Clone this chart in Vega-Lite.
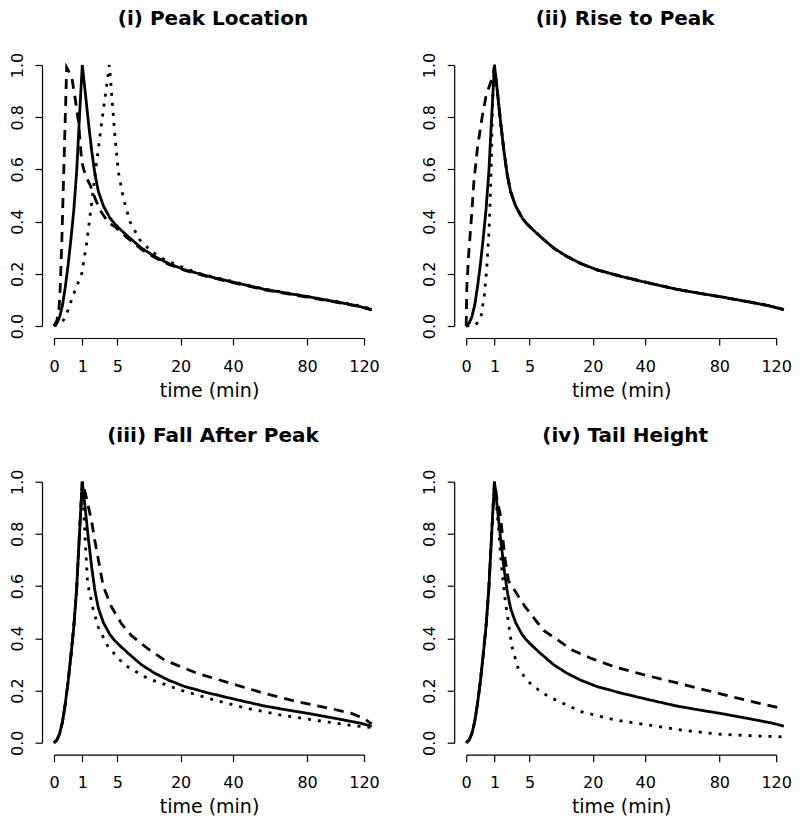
{
  "$schema": "https://vega.github.io/schema/vega-lite/v6.json",
  "padding": {"left": 9, "top": 9, "right": 0, "bottom": 0},
  "background": "white",
  "columns": 2,
  "spacing": {"row": 155.7, "column": 102.2},
  "bounds": "flush",
  "config": {
    "view": {"stroke": null},
    "title": {"font": "DejaVu Sans", "fontSize": 20, "fontWeight": "bold", "color": "#000", "anchor": "middle", "frame": "group", "offset": 23, "dx": 4},
    "axis": {"grid": false, "domainColor": "#000", "tickColor": "#000", "labelColor": "#000", "labelFont": "DejaVu Sans", "labelFontSize": 16, "tickSize": 7, "offset": 12, "titleFont": "DejaVu Sans", "titleFontWeight": "normal", "titleFontSize": 19, "titleColor": "#000", "labelFlush": false, "labelOverlap": false, "domainWidth": 1.2, "tickWidth": 1.2},
    "axisX": {"labelPadding": 13, "titlePadding": 7},
    "axisY": {"labelPadding": 10}
  },
  "datasets": {
    "p1": [
      {"c": "solid", "t": 0, "v": 0}, {"c": "solid", "t": 0.01, "v": 0.01}, {"c": "solid", "t": 0.04, "v": 0.035}, {"c": "solid", "t": 0.09, "v": 0.08}, {"c": "solid", "t": 0.16, "v": 0.15}, {"c": "solid", "t": 0.25, "v": 0.235}, {"c": "solid", "t": 0.36, "v": 0.335}, {"c": "solid", "t": 0.49, "v": 0.445}, {"c": "solid", "t": 0.64, "v": 0.59}, {"c": "solid", "t": 0.81, "v": 0.8}, {"c": "solid", "t": 0.9, "v": 0.9}, {"c": "solid", "t": 1, "v": 1},
      {"c": "solid", "t": 1.1, "v": 0.95}, {"c": "solid", "t": 1.21, "v": 0.9}, {"c": "solid", "t": 1.48, "v": 0.78}, {"c": "solid", "t": 1.78, "v": 0.67}, {"c": "solid", "t": 2.1, "v": 0.58}, {"c": "solid", "t": 2.46, "v": 0.515}, {"c": "solid", "t": 3.05, "v": 0.46}, {"c": "solid", "t": 3.93, "v": 0.413}, {"c": "solid", "t": 4.66, "v": 0.39}, {"c": "solid", "t": 5.5, "v": 0.37}, {"c": "solid", "t": 6.9, "v": 0.342}, {"c": "solid", "t": 9.6, "v": 0.298}, {"c": "solid", "t": 12.7, "v": 0.266}, {"c": "solid", "t": 16.3, "v": 0.24}, {"c": "solid", "t": 21.4, "v": 0.215}, {"c": "solid", "t": 30, "v": 0.19}, {"c": "solid", "t": 40, "v": 0.168}, {"c": "solid", "t": 55, "v": 0.141}, {"c": "solid", "t": 70, "v": 0.123}, {"c": "solid", "t": 80, "v": 0.113}, {"c": "solid", "t": 100, "v": 0.092}, {"c": "solid", "t": 115, "v": 0.077}, {"c": "solid", "t": 126, "v": 0.063},
      {"c": "dashed", "t": 0, "v": 0}, {"c": "dashed", "t": 0.01, "v": 0.02}, {"c": "dashed", "t": 0.03, "v": 0.06}, {"c": "dashed", "t": 0.048, "v": 0.144}, {"c": "dashed", "t": 0.076, "v": 0.32}, {"c": "dashed", "t": 0.112, "v": 0.553}, {"c": "dashed", "t": 0.155, "v": 0.78}, {"c": "dashed", "t": 0.2, "v": 0.99}, {"c": "dashed", "t": 0.25, "v": 0.98}, {"c": "dashed", "t": 0.4, "v": 0.95}, {"c": "dashed", "t": 0.56, "v": 0.872}, {"c": "dashed", "t": 0.75, "v": 0.78}, {"c": "dashed", "t": 0.96, "v": 0.63}, {"c": "dashed", "t": 1.21, "v": 0.58}, {"c": "dashed", "t": 1.63, "v": 0.54}, {"c": "dashed", "t": 2.1, "v": 0.49}, {"c": "dashed", "t": 2.65, "v": 0.444}, {"c": "dashed", "t": 3.7, "v": 0.395}, {"c": "dashed", "t": 4.66, "v": 0.38}, {"c": "dashed", "t": 5.5, "v": 0.36}, {"c": "dashed", "t": 6.9, "v": 0.335}, {"c": "dashed", "t": 9.6, "v": 0.293}, {"c": "dashed", "t": 12.7, "v": 0.262}, {"c": "dashed", "t": 16.3, "v": 0.237}, {"c": "dashed", "t": 21.4, "v": 0.213}, {"c": "dashed", "t": 30, "v": 0.188}, {"c": "dashed", "t": 40, "v": 0.166}, {"c": "dashed", "t": 55, "v": 0.139}, {"c": "dashed", "t": 70, "v": 0.121}, {"c": "dashed", "t": 80, "v": 0.111}, {"c": "dashed", "t": 100, "v": 0.091}, {"c": "dashed", "t": 115, "v": 0.076}, {"c": "dashed", "t": 126, "v": 0.062},
      {"c": "dotted", "t": 0, "v": 0}, {"c": "dotted", "t": 0.05, "v": 0.01}, {"c": "dotted", "t": 0.155, "v": 0.03}, {"c": "dotted", "t": 0.47, "v": 0.12}, {"c": "dotted", "t": 0.96, "v": 0.2}, {"c": "dotted", "t": 1.34, "v": 0.32}, {"c": "dotted", "t": 1.78, "v": 0.476}, {"c": "dotted", "t": 2.28, "v": 0.63}, {"c": "dotted", "t": 2.84, "v": 0.78}, {"c": "dotted", "t": 3.47, "v": 0.923}, {"c": "dotted", "t": 3.83, "v": 1.0}, {"c": "dotted", "t": 4.16, "v": 0.885}, {"c": "dotted", "t": 4.66, "v": 0.72}, {"c": "dotted", "t": 5.18, "v": 0.59}, {"c": "dotted", "t": 6.0, "v": 0.49}, {"c": "dotted", "t": 7.2, "v": 0.4}, {"c": "dotted", "t": 9.2, "v": 0.33}, {"c": "dotted", "t": 11.9, "v": 0.285}, {"c": "dotted", "t": 15.4, "v": 0.253}, {"c": "dotted", "t": 20.3, "v": 0.227}, {"c": "dotted", "t": 25.8, "v": 0.203}, {"c": "dotted", "t": 30, "v": 0.192}, {"c": "dotted", "t": 40, "v": 0.17}, {"c": "dotted", "t": 55, "v": 0.142}, {"c": "dotted", "t": 70, "v": 0.124}, {"c": "dotted", "t": 80, "v": 0.113}, {"c": "dotted", "t": 100, "v": 0.093}, {"c": "dotted", "t": 115, "v": 0.079}, {"c": "dotted", "t": 126, "v": 0.065}
    ],
    "p2": [
      {"c": "solid", "t": 0, "v": 0}, {"c": "solid", "t": 0.01, "v": 0.01}, {"c": "solid", "t": 0.04, "v": 0.035}, {"c": "solid", "t": 0.09, "v": 0.08}, {"c": "solid", "t": 0.16, "v": 0.15}, {"c": "solid", "t": 0.25, "v": 0.235}, {"c": "solid", "t": 0.36, "v": 0.335}, {"c": "solid", "t": 0.49, "v": 0.445}, {"c": "solid", "t": 0.64, "v": 0.59}, {"c": "solid", "t": 0.81, "v": 0.8}, {"c": "solid", "t": 0.9, "v": 0.9}, {"c": "solid", "t": 1, "v": 1},
      {"c": "solid", "t": 1.1, "v": 0.95}, {"c": "solid", "t": 1.21, "v": 0.9}, {"c": "solid", "t": 1.48, "v": 0.78}, {"c": "solid", "t": 1.78, "v": 0.67}, {"c": "solid", "t": 2.1, "v": 0.58}, {"c": "solid", "t": 2.46, "v": 0.515}, {"c": "solid", "t": 3.05, "v": 0.46}, {"c": "solid", "t": 3.93, "v": 0.413}, {"c": "solid", "t": 4.66, "v": 0.39}, {"c": "solid", "t": 5.5, "v": 0.37}, {"c": "solid", "t": 6.9, "v": 0.342}, {"c": "solid", "t": 9.6, "v": 0.298}, {"c": "solid", "t": 12.7, "v": 0.266}, {"c": "solid", "t": 16.3, "v": 0.24}, {"c": "solid", "t": 21.4, "v": 0.215}, {"c": "solid", "t": 30, "v": 0.19}, {"c": "solid", "t": 40, "v": 0.168}, {"c": "solid", "t": 55, "v": 0.141}, {"c": "solid", "t": 70, "v": 0.123}, {"c": "solid", "t": 80, "v": 0.113}, {"c": "solid", "t": 100, "v": 0.092}, {"c": "solid", "t": 115, "v": 0.077}, {"c": "solid", "t": 126, "v": 0.063},
      {"c": "dashed", "t": 0, "v": 0}, {"c": "dashed", "t": 0.0004, "v": 0.144}, {"c": "dashed", "t": 0.007, "v": 0.27}, {"c": "dashed", "t": 0.034, "v": 0.413}, {"c": "dashed", "t": 0.074, "v": 0.553}, {"c": "dashed", "t": 0.156, "v": 0.68}, {"c": "dashed", "t": 0.31, "v": 0.796}, {"c": "dashed", "t": 0.5, "v": 0.885}, {"c": "dashed", "t": 0.73, "v": 0.93}, {"c": "dashed", "t": 0.9, "v": 0.96}, {"c": "dashed", "t": 1, "v": 1},
      {"c": "dashed", "t": 1.1, "v": 0.95}, {"c": "dashed", "t": 1.21, "v": 0.9}, {"c": "dashed", "t": 1.48, "v": 0.78}, {"c": "dashed", "t": 1.78, "v": 0.67}, {"c": "dashed", "t": 2.1, "v": 0.58}, {"c": "dashed", "t": 2.46, "v": 0.515}, {"c": "dashed", "t": 3.05, "v": 0.46}, {"c": "dashed", "t": 3.93, "v": 0.413}, {"c": "dashed", "t": 4.66, "v": 0.39}, {"c": "dashed", "t": 5.5, "v": 0.37}, {"c": "dashed", "t": 6.9, "v": 0.342}, {"c": "dashed", "t": 9.6, "v": 0.298}, {"c": "dashed", "t": 12.7, "v": 0.266}, {"c": "dashed", "t": 16.3, "v": 0.24}, {"c": "dashed", "t": 21.4, "v": 0.215}, {"c": "dashed", "t": 30, "v": 0.19}, {"c": "dashed", "t": 40, "v": 0.168}, {"c": "dashed", "t": 55, "v": 0.141}, {"c": "dashed", "t": 70, "v": 0.123}, {"c": "dashed", "t": 80, "v": 0.113}, {"c": "dashed", "t": 100, "v": 0.092}, {"c": "dashed", "t": 115, "v": 0.077}, {"c": "dashed", "t": 126, "v": 0.063},
      {"c": "dotted", "t": 0, "v": 0}, {"c": "dotted", "t": 0.113, "v": 0.004}, {"c": "dotted", "t": 0.266, "v": 0.03}, {"c": "dotted", "t": 0.412, "v": 0.12}, {"c": "dotted", "t": 0.527, "v": 0.22}, {"c": "dotted", "t": 0.648, "v": 0.36}, {"c": "dotted", "t": 0.727, "v": 0.5}, {"c": "dotted", "t": 0.8, "v": 0.655}, {"c": "dotted", "t": 0.839, "v": 0.78}, {"c": "dotted", "t": 0.898, "v": 0.91}, {"c": "dotted", "t": 1, "v": 1},
      {"c": "dotted", "t": 1.1, "v": 0.95}, {"c": "dotted", "t": 1.21, "v": 0.9}, {"c": "dotted", "t": 1.48, "v": 0.78}, {"c": "dotted", "t": 1.78, "v": 0.67}, {"c": "dotted", "t": 2.1, "v": 0.58}, {"c": "dotted", "t": 2.46, "v": 0.515}, {"c": "dotted", "t": 3.05, "v": 0.46}, {"c": "dotted", "t": 3.93, "v": 0.413}, {"c": "dotted", "t": 4.66, "v": 0.39}, {"c": "dotted", "t": 5.5, "v": 0.37}, {"c": "dotted", "t": 6.9, "v": 0.342}, {"c": "dotted", "t": 9.6, "v": 0.298}, {"c": "dotted", "t": 12.7, "v": 0.266}, {"c": "dotted", "t": 16.3, "v": 0.24}, {"c": "dotted", "t": 21.4, "v": 0.215}, {"c": "dotted", "t": 30, "v": 0.19}, {"c": "dotted", "t": 40, "v": 0.168}, {"c": "dotted", "t": 55, "v": 0.141}, {"c": "dotted", "t": 70, "v": 0.123}, {"c": "dotted", "t": 80, "v": 0.113}, {"c": "dotted", "t": 100, "v": 0.092}, {"c": "dotted", "t": 115, "v": 0.077}, {"c": "dotted", "t": 126, "v": 0.063}
    ],
    "p3": [
      {"c": "solid", "t": 0, "v": 0}, {"c": "solid", "t": 0.01, "v": 0.01}, {"c": "solid", "t": 0.04, "v": 0.035}, {"c": "solid", "t": 0.09, "v": 0.08}, {"c": "solid", "t": 0.16, "v": 0.15}, {"c": "solid", "t": 0.25, "v": 0.235}, {"c": "solid", "t": 0.36, "v": 0.335}, {"c": "solid", "t": 0.49, "v": 0.445}, {"c": "solid", "t": 0.64, "v": 0.59}, {"c": "solid", "t": 0.81, "v": 0.8}, {"c": "solid", "t": 0.9, "v": 0.9}, {"c": "solid", "t": 1, "v": 1},
      {"c": "solid", "t": 1.1, "v": 0.95}, {"c": "solid", "t": 1.21, "v": 0.9}, {"c": "solid", "t": 1.48, "v": 0.78}, {"c": "solid", "t": 1.78, "v": 0.67}, {"c": "solid", "t": 2.1, "v": 0.58}, {"c": "solid", "t": 2.46, "v": 0.515}, {"c": "solid", "t": 3.05, "v": 0.46}, {"c": "solid", "t": 3.93, "v": 0.413}, {"c": "solid", "t": 4.66, "v": 0.39}, {"c": "solid", "t": 5.5, "v": 0.37}, {"c": "solid", "t": 6.9, "v": 0.342}, {"c": "solid", "t": 9.6, "v": 0.298}, {"c": "solid", "t": 12.7, "v": 0.266}, {"c": "solid", "t": 16.3, "v": 0.24}, {"c": "solid", "t": 21.4, "v": 0.215}, {"c": "solid", "t": 30, "v": 0.19}, {"c": "solid", "t": 40, "v": 0.168}, {"c": "solid", "t": 55, "v": 0.141}, {"c": "solid", "t": 70, "v": 0.123}, {"c": "solid", "t": 80, "v": 0.113}, {"c": "solid", "t": 100, "v": 0.092}, {"c": "solid", "t": 115, "v": 0.077}, {"c": "solid", "t": 126, "v": 0.063},
      {"c": "dashed", "t": 0, "v": 0}, {"c": "dashed", "t": 0.01, "v": 0.01}, {"c": "dashed", "t": 0.04, "v": 0.035}, {"c": "dashed", "t": 0.09, "v": 0.08}, {"c": "dashed", "t": 0.16, "v": 0.15}, {"c": "dashed", "t": 0.25, "v": 0.235}, {"c": "dashed", "t": 0.36, "v": 0.335}, {"c": "dashed", "t": 0.49, "v": 0.445}, {"c": "dashed", "t": 0.64, "v": 0.59}, {"c": "dashed", "t": 0.81, "v": 0.8}, {"c": "dashed", "t": 0.9, "v": 0.9}, {"c": "dashed", "t": 1, "v": 1},
      {"c": "dashed", "t": 1.24, "v": 0.953}, {"c": "dashed", "t": 1.76, "v": 0.85}, {"c": "dashed", "t": 2.08, "v": 0.775}, {"c": "dashed", "t": 2.63, "v": 0.67}, {"c": "dashed", "t": 3.02, "v": 0.6}, {"c": "dashed", "t": 4.13, "v": 0.52}, {"c": "dashed", "t": 5.68, "v": 0.456}, {"c": "dashed", "t": 7.5, "v": 0.41}, {"c": "dashed", "t": 11, "v": 0.36}, {"c": "dashed", "t": 15.3, "v": 0.316}, {"c": "dashed", "t": 25.8, "v": 0.265}, {"c": "dashed", "t": 39.2, "v": 0.227}, {"c": "dashed", "t": 55.2, "v": 0.189}, {"c": "dashed", "t": 74, "v": 0.157}, {"c": "dashed", "t": 95.6, "v": 0.131}, {"c": "dashed", "t": 110, "v": 0.113}, {"c": "dashed", "t": 120, "v": 0.093}, {"c": "dashed", "t": 126, "v": 0.072},
      {"c": "dotted", "t": 0, "v": 0}, {"c": "dotted", "t": 0.01, "v": 0.01}, {"c": "dotted", "t": 0.04, "v": 0.035}, {"c": "dotted", "t": 0.09, "v": 0.08}, {"c": "dotted", "t": 0.16, "v": 0.15}, {"c": "dotted", "t": 0.25, "v": 0.235}, {"c": "dotted", "t": 0.36, "v": 0.335}, {"c": "dotted", "t": 0.49, "v": 0.445}, {"c": "dotted", "t": 0.64, "v": 0.59}, {"c": "dotted", "t": 0.81, "v": 0.8}, {"c": "dotted", "t": 0.9, "v": 0.9}, {"c": "dotted", "t": 1, "v": 1},
      {"c": "dotted", "t": 1.19, "v": 0.8}, {"c": "dotted", "t": 1.41, "v": 0.61}, {"c": "dotted", "t": 1.92, "v": 0.51}, {"c": "dotted", "t": 2.44, "v": 0.443}, {"c": "dotted", "t": 3.66, "v": 0.367}, {"c": "dotted", "t": 6.25, "v": 0.297}, {"c": "dotted", "t": 11, "v": 0.246}, {"c": "dotted", "t": 20.2, "v": 0.201}, {"c": "dotted", "t": 32.2, "v": 0.163}, {"c": "dotted", "t": 46.9, "v": 0.131}, {"c": "dotted", "t": 64.3, "v": 0.106}, {"c": "dotted", "t": 84.5, "v": 0.087}, {"c": "dotted", "t": 107.5, "v": 0.068}, {"c": "dotted", "t": 126, "v": 0.058}
    ],
    "p4": [
      {"c": "solid", "t": 0, "v": 0}, {"c": "solid", "t": 0.01, "v": 0.01}, {"c": "solid", "t": 0.04, "v": 0.035}, {"c": "solid", "t": 0.09, "v": 0.08}, {"c": "solid", "t": 0.16, "v": 0.15}, {"c": "solid", "t": 0.25, "v": 0.235}, {"c": "solid", "t": 0.36, "v": 0.335}, {"c": "solid", "t": 0.49, "v": 0.445}, {"c": "solid", "t": 0.64, "v": 0.59}, {"c": "solid", "t": 0.81, "v": 0.8}, {"c": "solid", "t": 0.9, "v": 0.9}, {"c": "solid", "t": 1, "v": 1},
      {"c": "solid", "t": 1.1, "v": 0.95}, {"c": "solid", "t": 1.21, "v": 0.9}, {"c": "solid", "t": 1.48, "v": 0.78}, {"c": "solid", "t": 1.78, "v": 0.67}, {"c": "solid", "t": 2.1, "v": 0.58}, {"c": "solid", "t": 2.46, "v": 0.515}, {"c": "solid", "t": 3.05, "v": 0.46}, {"c": "solid", "t": 3.93, "v": 0.413}, {"c": "solid", "t": 4.66, "v": 0.39}, {"c": "solid", "t": 5.5, "v": 0.37}, {"c": "solid", "t": 6.9, "v": 0.342}, {"c": "solid", "t": 9.6, "v": 0.298}, {"c": "solid", "t": 12.7, "v": 0.266}, {"c": "solid", "t": 16.3, "v": 0.24}, {"c": "solid", "t": 21.4, "v": 0.215}, {"c": "solid", "t": 30, "v": 0.19}, {"c": "solid", "t": 40, "v": 0.168}, {"c": "solid", "t": 55, "v": 0.141}, {"c": "solid", "t": 70, "v": 0.123}, {"c": "solid", "t": 80, "v": 0.113}, {"c": "solid", "t": 100, "v": 0.092}, {"c": "solid", "t": 115, "v": 0.077}, {"c": "solid", "t": 126, "v": 0.063},
      {"c": "dashed", "t": 0, "v": 0}, {"c": "dashed", "t": 0.01, "v": 0.01}, {"c": "dashed", "t": 0.04, "v": 0.035}, {"c": "dashed", "t": 0.09, "v": 0.08}, {"c": "dashed", "t": 0.16, "v": 0.15}, {"c": "dashed", "t": 0.25, "v": 0.235}, {"c": "dashed", "t": 0.36, "v": 0.335}, {"c": "dashed", "t": 0.49, "v": 0.445}, {"c": "dashed", "t": 0.64, "v": 0.59}, {"c": "dashed", "t": 0.81, "v": 0.8}, {"c": "dashed", "t": 0.9, "v": 0.9}, {"c": "dashed", "t": 1, "v": 1},
      {"c": "dashed", "t": 1.2, "v": 0.93}, {"c": "dashed", "t": 1.44, "v": 0.876}, {"c": "dashed", "t": 1.9, "v": 0.7}, {"c": "dashed", "t": 2.24, "v": 0.62}, {"c": "dashed", "t": 3, "v": 0.58}, {"c": "dashed", "t": 4.35, "v": 0.52}, {"c": "dashed", "t": 6, "v": 0.47}, {"c": "dashed", "t": 7.5, "v": 0.43}, {"c": "dashed", "t": 10.6, "v": 0.392}, {"c": "dashed", "t": 14, "v": 0.355}, {"c": "dashed", "t": 19.7, "v": 0.322}, {"c": "dashed", "t": 27.7, "v": 0.29}, {"c": "dashed", "t": 40, "v": 0.259}, {"c": "dashed", "t": 55, "v": 0.23}, {"c": "dashed", "t": 79.5, "v": 0.189}, {"c": "dashed", "t": 100, "v": 0.16}, {"c": "dashed", "t": 126, "v": 0.13},
      {"c": "dotted", "t": 0, "v": 0}, {"c": "dotted", "t": 0.01, "v": 0.01}, {"c": "dotted", "t": 0.04, "v": 0.035}, {"c": "dotted", "t": 0.09, "v": 0.08}, {"c": "dotted", "t": 0.16, "v": 0.15}, {"c": "dotted", "t": 0.25, "v": 0.235}, {"c": "dotted", "t": 0.36, "v": 0.335}, {"c": "dotted", "t": 0.49, "v": 0.445}, {"c": "dotted", "t": 0.64, "v": 0.59}, {"c": "dotted", "t": 0.81, "v": 0.8}, {"c": "dotted", "t": 0.9, "v": 0.9}, {"c": "dotted", "t": 1, "v": 1},
      {"c": "dotted", "t": 1.2, "v": 0.88}, {"c": "dotted", "t": 1.59, "v": 0.66}, {"c": "dotted", "t": 1.9, "v": 0.545}, {"c": "dotted", "t": 2.6, "v": 0.37}, {"c": "dotted", "t": 3.42, "v": 0.28}, {"c": "dotted", "t": 5.4, "v": 0.22}, {"c": "dotted", "t": 8.5, "v": 0.176}, {"c": "dotted", "t": 16.7, "v": 0.118}, {"c": "dotted", "t": 27.7, "v": 0.087}, {"c": "dotted", "t": 41.5, "v": 0.068}, {"c": "dotted", "t": 58, "v": 0.048}, {"c": "dotted", "t": 79.6, "v": 0.033}, {"c": "dotted", "t": 100, "v": 0.027}, {"c": "dotted", "t": 121.8, "v": 0.023}, {"c": "dotted", "t": 126, "v": 0.022}
    ]
  },
  "concat": [
    {
      "title": "(i) Peak Location",
      "width": 310, "height": 261,
      "data": {"name": "p1"},
      "mark": {"type": "line", "clip": false, "color": "#000", "strokeWidth": 2.8},
      "encoding": {
        "x": {"field": "t", "type": "quantitative", "scale": {"type": "sqrt", "domain": [0, 120], "nice": false, "zero": true}, "axis": {"values": [0, 1, 5, 20, 40, 80, 120], "title": "time (min)"}},
        "y": {"field": "v", "type": "quantitative", "scale": {"domain": [0, 1], "nice": false}, "axis": {"values": [0, 0.2, 0.4, 0.6, 0.8, 1.0], "format": ".1f", "labelAngle": 270, "title": null}},
        "strokeDash": {"field": "c", "type": "nominal", "scale": {"domain": ["solid", "dashed", "dotted"], "range": [[1, 0], [10, 7], [3, 7]]}, "legend": null}
      }
    },
    {
      "title": "(ii) Rise to Peak",
      "width": 310, "height": 261,
      "data": {"name": "p2"},
      "mark": {"type": "line", "clip": false, "color": "#000", "strokeWidth": 2.8},
      "encoding": {
        "x": {"field": "t", "type": "quantitative", "scale": {"type": "sqrt", "domain": [0, 120], "nice": false, "zero": true}, "axis": {"values": [0, 1, 5, 20, 40, 80, 120], "title": "time (min)"}},
        "y": {"field": "v", "type": "quantitative", "scale": {"domain": [0, 1], "nice": false}, "axis": {"values": [0, 0.2, 0.4, 0.6, 0.8, 1.0], "format": ".1f", "labelAngle": 270, "title": null}},
        "strokeDash": {"field": "c", "type": "nominal", "scale": {"domain": ["solid", "dashed", "dotted"], "range": [[1, 0], [10, 7], [3, 7]]}, "legend": null}
      }
    },
    {
      "title": "(iii) Fall After Peak",
      "width": 310, "height": 261,
      "data": {"name": "p3"},
      "mark": {"type": "line", "clip": false, "color": "#000", "strokeWidth": 2.8},
      "encoding": {
        "x": {"field": "t", "type": "quantitative", "scale": {"type": "sqrt", "domain": [0, 120], "nice": false, "zero": true}, "axis": {"values": [0, 1, 5, 20, 40, 80, 120], "title": "time (min)"}},
        "y": {"field": "v", "type": "quantitative", "scale": {"domain": [0, 1], "nice": false}, "axis": {"values": [0, 0.2, 0.4, 0.6, 0.8, 1.0], "format": ".1f", "labelAngle": 270, "title": null}},
        "strokeDash": {"field": "c", "type": "nominal", "scale": {"domain": ["solid", "dashed", "dotted"], "range": [[1, 0], [10, 7], [3, 7]]}, "legend": null}
      }
    },
    {
      "title": "(iv) Tail Height",
      "width": 310, "height": 261,
      "data": {"name": "p4"},
      "mark": {"type": "line", "clip": false, "color": "#000", "strokeWidth": 2.8},
      "encoding": {
        "x": {"field": "t", "type": "quantitative", "scale": {"type": "sqrt", "domain": [0, 120], "nice": false, "zero": true}, "axis": {"values": [0, 1, 5, 20, 40, 80, 120], "title": "time (min)"}},
        "y": {"field": "v", "type": "quantitative", "scale": {"domain": [0, 1], "nice": false}, "axis": {"values": [0, 0.2, 0.4, 0.6, 0.8, 1.0], "format": ".1f", "labelAngle": 270, "title": null}},
        "strokeDash": {"field": "c", "type": "nominal", "scale": {"domain": ["solid", "dashed", "dotted"], "range": [[1, 0], [10, 7], [3, 7]]}, "legend": null}
      }
    }
  ],
  "resolve": {"scale": {"strokeDash": "independent"}}
}
